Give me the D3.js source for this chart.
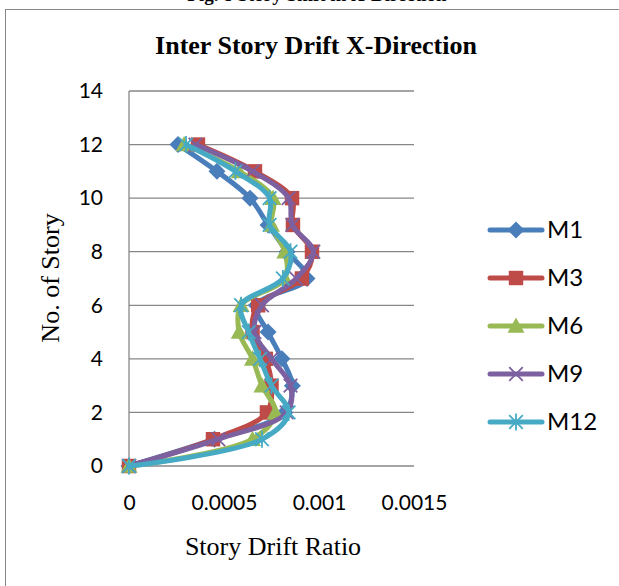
<!DOCTYPE html>
<html><head><meta charset="utf-8">
<script src="https://cdn.jsdelivr.net/npm/d3@7/dist/d3.min.js"></script>
<style>body{margin:0;background:#fff;overflow:hidden}svg{display:block}</style>
</head><body>
<script>
const stories = [0,1,2,3,4,5,6,7,8,9,10,11,12];
const M1  = [0,0.00045,0.00082,0.00086,0.000805,0.000732,0.00067,0.000937,0.000832,0.000732,0.000637,0.000463,0.000258];
const M3  = [0,0.000442,0.000726,0.00075,0.00072,0.00065,0.00068,0.00091,0.000963,0.000863,0.000858,0.000663,0.000363];
const M6  = [0,0.00065,0.00077,0.0007,0.00065,0.00058,0.00059,0.00082,0.00082,0.00075,0.000758,0.00058,0.00029];
const M9  = [0,0.00047,0.00083,0.00085,0.00075,0.00066,0.0007,0.00088,0.00097,0.00086,0.00084,0.00065,0.00035];
const M12 = [0,0.0007,0.00084,0.00075,0.00069,0.00063,0.00059,0.00081,0.00085,0.00074,0.00074,0.00056,0.0003];
const seriesNames = ["M1","M3","M6","M9","M12"];
const seriesVals = [M1,M3,M6,M9,M12];
const colors = ["#4A7EBB","#BE4B48","#98B954","#7D60A0","#46AAC5"];
const markerTypes = ["diamond","square","triangle","x","asterisk"];
const xTicks = [0,0.0005,0.001,0.0015];
const xTickLabels = ["0","0.0005","0.001","0.0015"];
const yTicks = [0,2,4,6,8,10,12,14];

const W=619,H=586;
const svg=d3.select("body").append("svg").attr("width",W).attr("height",H);
svg.append("rect").attr("x",5.5).attr("y",9.5).attr("width",W).attr("height",H).attr("fill","#fff").attr("stroke","#868686").attr("stroke-width",1);

// clipped caption remnant from above the chart
svg.append("clipPath").attr("id","topclip").append("rect").attr("x",0).attr("y",0).attr("width",W).attr("height",9);
svg.append("text").attr("clip-path","url(#topclip)").attr("x",317).attr("y",1).attr("text-anchor","middle")
  .style("font-family","Liberation Serif").style("font-weight","bold").style("font-size","19px").text("Fig. 8 Story Shift in X-Direction");

const x=d3.scaleLinear().domain([0,0.0015]).range([129,414]);
const y=d3.scaleLinear().domain([0,14]).range([466,91]);

// gridlines
svg.append("g").selectAll("line").data(yTicks).join("line")
  .attr("x1",x(0)).attr("x2",x(0.0015)).attr("y1",d=>y(d)).attr("y2",d=>y(d))
  .attr("stroke","#878787").attr("stroke-width",1.3);
svg.append("line").attr("x1",x(0)).attr("x2",x(0)).attr("y1",y(14)).attr("y2",y(0)+5).attr("stroke","#878787").attr("stroke-width",1.3);

// axes labels
const yAxis=d3.axisLeft(y).tickValues(yTicks).tickSize(0).tickPadding(26);
const gy=svg.append("g").attr("transform",`translate(${x(0)},0)`).call(yAxis);
gy.select(".domain").remove();
gy.selectAll("text").style("font-family","Lato").style("font-size","21px").attr("fill","#000");
const xAxis=d3.axisBottom(x).tickValues(xTicks).tickFormat((d,i)=>xTickLabels[i]).tickSize(0).tickPadding(29);
const gx=svg.append("g").attr("transform",`translate(0,${y(0)})`).call(xAxis);
gx.select(".domain").remove();
gx.selectAll("text").style("font-family","Lato").style("font-size","21px").attr("fill","#000");

// titles
svg.append("text").attr("x",316).attr("y",54).attr("text-anchor","middle")
  .style("font-family","Liberation Serif").style("font-weight","bold").style("font-size","26px").text("Inter Story Drift X-Direction");
svg.append("text").attr("x",273).attr("y",555).attr("text-anchor","middle")
  .style("font-family","Liberation Serif").style("font-size","26px").text("Story Drift Ratio");
svg.append("text").attr("transform","translate(59,278) rotate(-90)").attr("text-anchor","middle")
  .style("font-family","Liberation Serif").style("font-size","26px").text("No. of Story");

function marker(g,type,color,s){
  if(type==="diamond"){
    g.append("path").attr("d",`M0,${-s}L${s},0L0,${s}L${-s},0Z`).attr("fill",color);
  }else if(type==="square"){
    g.append("rect").attr("x",-s*0.85).attr("y",-s*0.85).attr("width",s*1.7).attr("height",s*1.7).attr("fill",color);
  }else if(type==="triangle"){
    g.append("path").attr("d",`M0,${-s}L${s},${s*0.8}L${-s},${s*0.8}Z`).attr("fill",color);
  }else if(type==="x"){
    g.append("path").attr("d",`M${-s*0.8},${-s*0.8}L${s*0.8},${s*0.8}M${-s*0.8},${s*0.8}L${s*0.8},${-s*0.8}`).attr("stroke",color).attr("stroke-width",1.8);
  }else{
    g.append("path").attr("d",`M${-s*0.8},${-s*0.8}L${s*0.8},${s*0.8}M${-s*0.8},${s*0.8}L${s*0.8},${-s*0.8}M0,${-s}L0,${s}`).attr("stroke",color).attr("stroke-width",1.8);
  }
}

const line=d3.line().x(d=>x(d[0])).y(d=>y(d[1])).curve(d3.curveCatmullRom.alpha(0.5));
seriesVals.forEach((vals,i)=>{
  const pts=vals.map((v,j)=>[v,stories[j]]);
  const g=svg.append("g");
  g.append("path").attr("d",line(pts)).attr("fill","none").attr("stroke",colors[i]).attr("stroke-width",5).attr("stroke-linecap","round");
  pts.forEach(p=>{
    const m=g.append("g").attr("transform",`translate(${x(p[0])},${y(p[1])})`);
    marker(m,markerTypes[i],colors[i],8.5);
  });
});

// legend
const legY=[230,278,326,374,422];
seriesNames.forEach((n,i)=>{
  const g=svg.append("g").attr("transform",`translate(0,${legY[i]})`);
  g.append("line").attr("x1",490).attr("x2",542).attr("y1",0).attr("y2",0).attr("stroke",colors[i]).attr("stroke-width",5).attr("stroke-linecap","round");
  const m=g.append("g").attr("transform","translate(516,0)");
  marker(m,markerTypes[i],colors[i],8.5);
  g.append("text").attr("x",547).attr("y",8).style("font-family","Lato").style("font-size","24px").text(n);
});
</script>
</body></html>
